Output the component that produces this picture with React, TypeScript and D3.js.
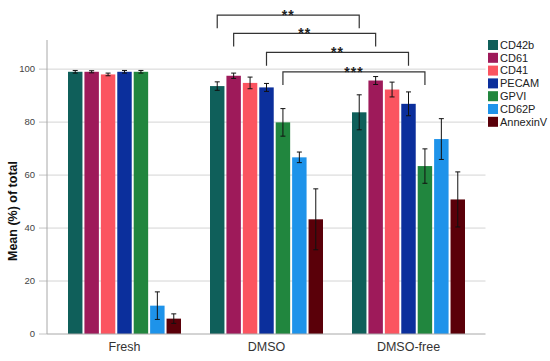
import * as d3 from "d3";

const groups = ["Fresh", "DMSO", "DMSO-free"];
const markers = ["CD42b", "CD61", "CD41", "PECAM", "GPVI", "CD62P", "AnnexinV"];
const colors = ["#0f5f5a", "#9e1a5a", "#fb5460", "#0b2f9c", "#21863e", "#1e93ea", "#5a0009"];

// mean per marker, one array per group
const freshMean = [99, 99, 98, 99, 99, 10.7, 5.8];
const freshErr = [0.5, 0.4, 0.5, 0.5, 0.5, 5.2, 1.8];
const dmsoMean = [93.6, 97.5, 94.8, 93.1, 79.9, 66.7, 43.3];
const dmsoErr = [1.6, 1.0, 2.2, 1.5, 5.2, 2.0, 11.5];
const freeMean = [83.7, 95.7, 92.3, 86.9, 63.4, 73.6, 50.8];
const freeErr = [6.6, 1.5, 2.8, 4.5, 6.5, 7.7, 10.4];

const yTicks = [0, 20, 40, 60, 80, 100];

// significance brackets: marker compared DMSO vs DMSO-free
const sigMarkers = ["CD42b", "CD61", "PECAM", "GPVI"];
const sigLevels = [120.4, 113.5, 106.3, 99.0];
const sigLabels = ["**", "**", "**", "***"];

const W = 550;
const H = 361;
const FONT = "Liberation Sans, Arial, sans-serif";

export default function App() {
  const means = [freshMean, dmsoMean, freeMean];
  const errs = [freshErr, dmsoErr, freeErr];

  const x0 = d3.scaleBand<string>().domain(groups).range([53.5, 479.5]);
  const x1 = d3
    .scaleBand<string>()
    .domain(markers)
    .range([14.5, 127.5])
    .paddingInner(0.12);
  const y = d3.scaleLinear().domain([0, 111]).range([334, 40]);
  const color = d3.scaleOrdinal<string, string>().domain(markers).range(colors);

  const left = 47;
  const right = 485.5;
  const legLen = 5;

  const barX = (g: string, m: string) => (x0(g) ?? 0) + (x1(m) ?? 0);
  const barMid = (g: string, m: string) => barX(g, m) + x1.bandwidth() / 2;

  return (
    <div style={{ position: "absolute", left: 0, top: 0 }}>
      <svg width={W} height={H} style={{ display: "block", background: "#fff" }}>
        {/* grid */}
        {yTicks.slice(1).map((t) => (
          <line key={t} x1={left} x2={right} y1={y(t)} y2={y(t)} stroke="#d4d4d4" strokeWidth={1} />
        ))}
        {/* y ticks */}
        {yTicks.map((t) => (
          <g key={"t" + t}>
            <line x1={left - 8} x2={left} y1={y(t)} y2={y(t)} stroke="#c4c4c4" />
            <text x={left - 12} y={y(t)} dy="0.35em" textAnchor="end" fontFamily={FONT} fontSize={9.5} fill="#444">
              {t}
            </text>
          </g>
        ))}

        {/* bars */}
        {groups.map((g, gi) =>
          markers.map((m, mi) => {
            const v = means[gi][mi];
            return (
              <rect
                key={g + m}
                x={barX(g, m)}
                y={y(v)}
                width={x1.bandwidth()}
                height={y(0) - y(v)}
                fill={color(m)}
              />
            );
          })
        )}

        {/* error bars */}
        {groups.map((g, gi) =>
          markers.map((m, mi) => {
            const v = means[gi][mi];
            const e = errs[gi][mi];
            const cx = barMid(g, m);
            return (
              <g key={"e" + g + m} stroke="#111" strokeWidth={1}>
                <line x1={cx} x2={cx} y1={y(v + e)} y2={y(v - e)} />
                <line x1={cx - 2.5} x2={cx + 2.5} y1={y(v + e)} y2={y(v + e)} />
                <line x1={cx - 2.5} x2={cx + 2.5} y1={y(v - e)} y2={y(v - e)} />
              </g>
            );
          })
        )}

        {/* axes */}
        <line x1={left} x2={left} y1={y(111)} y2={y(0)} stroke="#a8a8a8" />
        <line x1={left} x2={right} y1={y(0)} y2={y(0)} stroke="#a8a8a8" />

        {/* x labels */}
        {groups.map((g) => (
          <text
            key={"x" + g}
            x={(x0(g) ?? 0) + x0.bandwidth() / 2}
            y={351}
            textAnchor="middle"
            fontFamily={FONT}
            fontSize={12.5}
            fill="#333"
          >
            {g}
          </text>
        ))}

        {/* y label */}
        <text
          transform="translate(17,211) rotate(-90)"
          textAnchor="middle"
          fontFamily={FONT}
          fontSize={12.5}
          fontWeight="bold"
          fill="#111"
        >
          Mean (%) of total
        </text>

        {/* significance brackets */}
        {sigMarkers.map((m, i) => {
          const xa = barMid("DMSO", m);
          const xb = barMid("DMSO-free", m);
          const lv = sigLevels[i];
          return (
            <g key={"s" + m}>
              <path
                d={`M${xa},${y(lv - legLen)}V${y(lv)}H${xb}V${y(lv - legLen)}`}
                fill="none"
                stroke="#333"
                strokeWidth={1.2}
              />
              <text
                x={(xa + xb) / 2}
                y={y(lv) + 5}
                textAnchor="middle"
                fontFamily={FONT}
                fontSize={14}
                fontWeight="bold"
                letterSpacing={1}
                fill="#222"
              >
                {sigLabels[i]}
              </text>
            </g>
          );
        })}

        {/* legend */}
        {markers.map((m, i) => (
          <g key={"l" + m} transform={`translate(488,${45 + i * 12.8})`}>
            <rect x={0} y={-5} width={10} height={10} fill={color(m)} />
            <text x={12} y={0} dy="0.35em" fontFamily={FONT} fontSize={11} fill="#222">
              {m}
            </text>
          </g>
        ))}
      </svg>
    </div>
  );
}
